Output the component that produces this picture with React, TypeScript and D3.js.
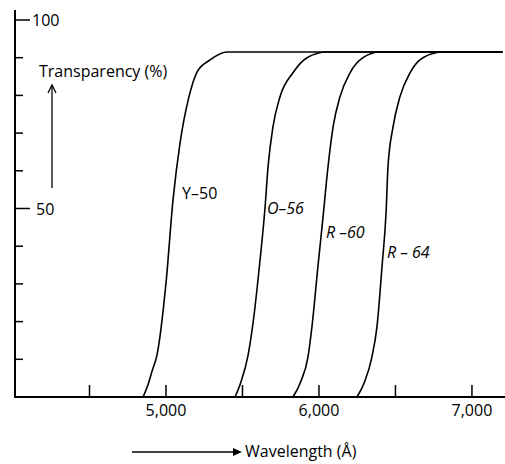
import { useEffect, useRef } from 'react';
import * as d3 from 'd3';

// Transmission curves of the four filters: wavelength (Å) vs transparency (%)
const Y50_WL = [4850, 4880, 4910, 4941, 5000, 5046, 5092, 5150, 5203, 5288, 5399, 7200];
const Y50_T = [0, 3, 7, 11.1, 30.2, 52.3, 67.4, 79.6, 86.2, 89.4, 91.5, 91.5];

const O56_WL = [5451, 5490, 5536, 5569, 5614, 5647, 5667, 5699, 5745, 5830, 5922, 6052, 7200];
const O56_T = [0, 4, 11, 19.6, 36, 50, 61, 71.6, 79.6, 86, 90, 91.5, 91.5];

const R60_WL = [5830, 5880, 5928, 5954, 5993, 6026, 6059, 6092, 6137, 6203, 6288, 6399, 7200];
const R60_T = [0, 4, 10.6, 18.6, 34.5, 47.5, 61, 71.6, 79.6, 86, 90, 91.5, 91.5];

const R64_WL = [6248, 6298, 6346, 6379, 6412, 6440, 6451, 6484, 6529, 6595, 6680, 6810, 7200];
const R64_T = [0, 4, 10.6, 18.6, 34.5, 50, 61, 71.6, 79.6, 86, 90, 91.5, 91.5];

const SERIES = [
  { name: 'Y–50', wl: Y50_WL, t: Y50_T, labelWl: 5105, labelT: 52.5, italic: false },
  { name: 'O–56', wl: O56_WL, t: O56_T, labelWl: 5660, labelT: 48.5, italic: true },
  { name: 'R –60', wl: R60_WL, t: R60_T, labelWl: 6046, labelT: 42.2, italic: true },
  { name: 'R – 64', wl: R64_WL, t: R64_T, labelWl: 6444, labelT: 36.9, italic: true },
];

const X_TICKS = [4500, 5000, 5500, 6000, 6500, 7000];
const X_LABELS = [5000, 6000, 7000];
const Y_TICKS = [10, 20, 30, 40, 50, 60, 70, 80, 90, 100];
const Y_LABELS = [50, 100];

const FONT = '"Open Sans", Lato, sans-serif';

export default function App() {
  const svgRef = useRef<SVGSVGElement>(null);

  useEffect(() => {
    const W = 505, H = 464;
    const svg = d3.select(svgRef.current);
    svg.selectAll('*').remove();

    const x = d3.scaleLinear().domain([4013, 7203]).range([15, 503]);
    const y = d3.scaleLinear().domain([0, 100]).range([397, 20]);
    const g = svg.append('g');

    // axes
    g.append('line').attr('x1', x(4013)).attr('x2', W).attr('y1', y(0)).attr('y2', y(0))
      .attr('stroke', '#000').attr('stroke-width', 2);
    g.append('line').attr('x1', x(4013)).attr('x2', x(4013)).attr('y1', y(0) + 1).attr('y2', y(100) - 10)
      .attr('stroke', '#000').attr('stroke-width', 2);

    X_TICKS.forEach(v => {
      g.append('line').attr('x1', x(v)).attr('x2', x(v)).attr('y1', y(0)).attr('y2', y(0) - 12)
        .attr('stroke', '#000').attr('stroke-width', 1.5);
    });
    X_LABELS.forEach(v => {
      g.append('text').attr('x', x(v)).attr('y', y(0) + 19).attr('text-anchor', 'middle')
        .attr('font-family', FONT).attr('font-size', 16).text(d3.format(',')(v));
    });

    Y_TICKS.forEach(v => {
      const major = Y_LABELS.includes(v);
      g.append('line').attr('x1', x(4013)).attr('x2', x(4013) + (major ? 15 : 8)).attr('y1', y(v)).attr('y2', y(v))
        .attr('stroke', '#000').attr('stroke-width', 1.5);
    });
    Y_LABELS.forEach(v => {
      g.append('text').attr('x', x(4013) + (v === 100 ? 17 : 21)).attr('y', y(v) + 6)
        .attr('font-family', FONT).attr('font-size', 16).text(v);
    });

    // curves
    const line = d3.line<[number, number]>().x(d => x(d[0])).y(d => y(d[1])).curve(d3.curveMonotoneX);
    SERIES.forEach(s => {
      const pts = s.wl.map((w, i) => [w, s.t[i]] as [number, number]);
      g.append('path').attr('d', line(pts)).attr('fill', 'none').attr('stroke', '#000').attr('stroke-width', 1.6);
      g.append('text').attr('x', x(s.labelWl)).attr('y', y(s.labelT))
        .attr('font-family', FONT).attr('font-size', 16)
        .attr('font-style', s.italic ? 'italic' : 'normal').text(s.name);
    });

    // y axis title with arrow
    g.append('text').attr('x', 39).attr('y', 77).attr('font-family', FONT).attr('font-size', 16)
      .text('Transparency (%)');
    g.append('line').attr('x1', 52).attr('x2', 52).attr('y1', 188).attr('y2', 86)
      .attr('stroke', '#000').attr('stroke-width', 1.3);
    g.append('path').attr('d', 'M48,93 L52,85 L56,93').attr('fill', 'none')
      .attr('stroke', '#000').attr('stroke-width', 1.3);

    // x axis title with arrow
    g.append('line').attr('x1', 132).attr('x2', 236).attr('y1', 452).attr('y2', 452)
      .attr('stroke', '#000').attr('stroke-width', 1.3);
    g.append('path').attr('d', 'M233,448 L242,452 L233,456 Z').attr('fill', '#000');
    g.append('text').attr('x', 245).attr('y', 457).attr('font-family', FONT).attr('font-size', 16)
      .text('Wavelength (Å)');

    svg.attr('width', W).attr('height', H);
  }, []);

  return (
    <div style={{ position: 'absolute', left: 0, top: 0, background: '#fff' }}>
      <svg ref={svgRef} width={505} height={464} style={{ display: 'block' }} />
    </div>
  );
}
